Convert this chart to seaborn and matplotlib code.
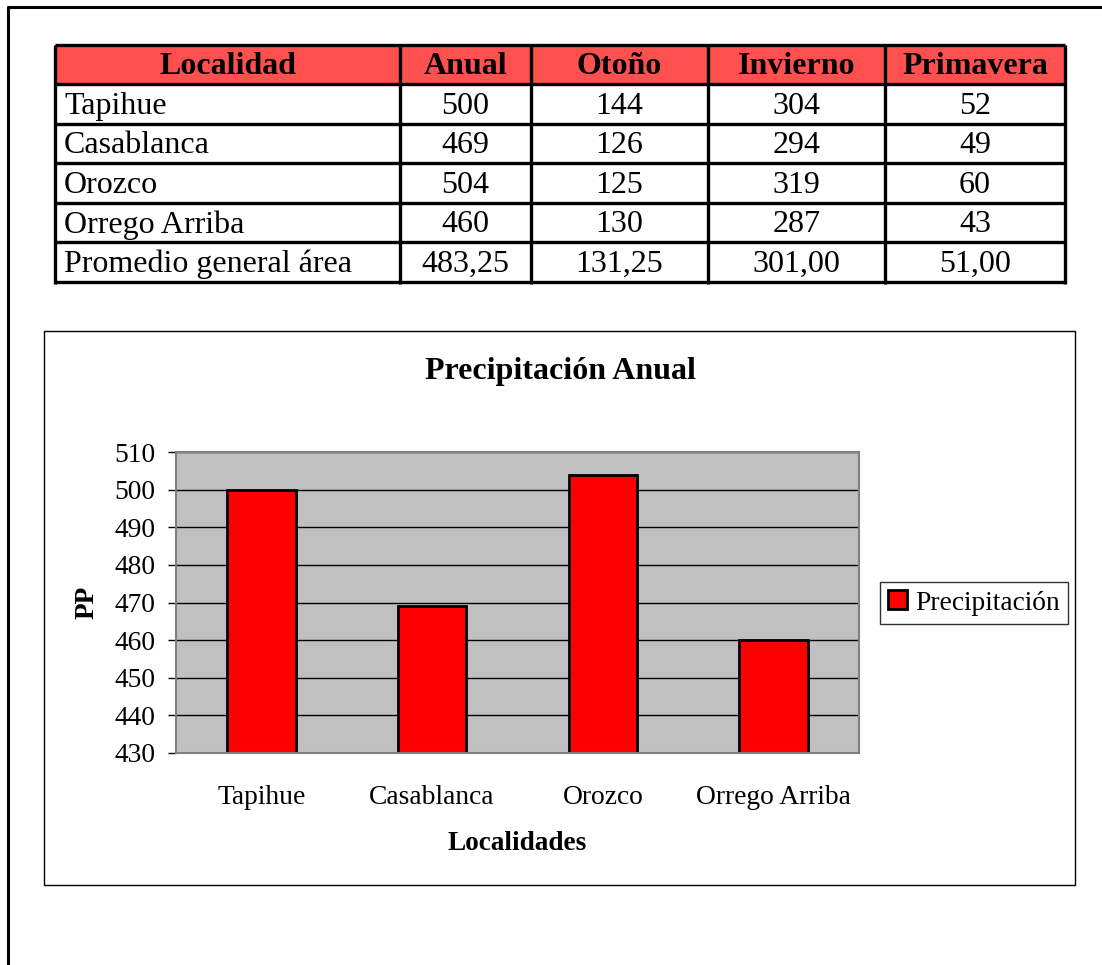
import matplotlib
matplotlib.use("Agg")
import matplotlib.pyplot as plt
import seaborn as sns
from matplotlib.patches import Rectangle
from matplotlib.lines import Line2D

# Table / chart data
localidades = ["Tapihue", "Casablanca", "Orozco", "Orrego Arriba"]
anual = [500, 469, 504, 460]
otono = [144, 126, 125, 130]
invierno = [304, 294, 319, 287]
primavera = [52, 49, 60, 43]
promedio = [483.25, 131.25, 301.00, 51.00]
headers = ["Localidad", "Anual", "Otoño", "Invierno", "Primavera"]
yticks = [430, 440, 450, 460, 470, 480, 490, 500, 510]

sns.set_style("white")
plt.rcParams["font.family"] = ["Liberation Serif", "DejaVu Serif"]
plt.rcParams["text.color"] = "black"
plt.rcParams["xtick.color"] = "black"
plt.rcParams["ytick.color"] = "black"
plt.rcParams["axes.labelcolor"] = "black"

W, H = 1102, 965
fig = plt.figure(figsize=(W / 100, H / 100), dpi=100)


def fx(x):
    return x / W


def fy(y):
    return 1 - y / H


# page border (left and top only)
fig.add_artist(Line2D([fx(8), fx(8)], [fy(7), 0], color="black", lw=2.2))
fig.add_artist(Line2D([fx(8), 1], [fy(7), fy(7)], color="black", lw=2.2))

# ---- table ----
col_edges = [55, 400, 531, 708, 885, 1065]
top, bottom = 45, 282
row_h = (bottom - top) / 6
tax = fig.add_axes([fx(55), fy(282), fx(1065) - fx(55), fy(45) - fy(282)])
tax.set_xlim(55, 1065)
tax.set_ylim(282, 45)
tax.axis("off")
tax.add_patch(Rectangle((55, 45), 1010, row_h, facecolor="#FF5050", edgecolor="none"))

rows = [[loc, str(a), str(o), str(i), str(p)]
        for loc, a, o, i, p in zip(localidades, anual, otono, invierno, primavera)]
rows.append(["Promedio general área"] + [f"{v:.2f}".replace(".", ",") for v in promedio])

for j, h in enumerate(headers):
    cx = (col_edges[j] + col_edges[j + 1]) / 2
    tax.text(cx, top + row_h / 2 + 2, h, ha="center", va="center",
             fontsize=23, fontweight="bold")
for r, row in enumerate(rows):
    cy = top + row_h * (r + 1.5) + 2
    for j, val in enumerate(row):
        if j == 0:
            tax.text(col_edges[0] + 9, cy, val, ha="left", va="center", fontsize=23)
        else:
            cx = (col_edges[j] + col_edges[j + 1]) / 2
            tax.text(cx, cy, val, ha="center", va="center", fontsize=23)

for k in range(7):
    tax.hlines(top + row_h * k, 55, 1065, color="black", lw=2.4, clip_on=False)
for x in col_edges:
    tax.vlines(x, top, bottom + 2, color="black", lw=2.4, clip_on=False)

# ---- chart ----
fig.add_artist(Rectangle((fx(44), fy(885)), fx(1075) - fx(44), fy(331) - fy(885),
                         transform=fig.transFigure, facecolor="none",
                         edgecolor="black", lw=1))

ax = fig.add_axes([fx(176), fy(753), fx(859) - fx(176), fy(452) - fy(753)])
ax.set_facecolor("#C0C0C0")
sns.barplot(x=localidades, y=anual, color="#FF0000", saturation=1,
            edgecolor="black", linewidth=2, width=0.4, label="Precipitación", ax=ax)
ax.set_ylim(430, 510)
ax.set_xlim(-0.5, 3.5)
ax.set_yticks(yticks)
ax.yaxis.grid(True, color="black", lw=1)
ax.set_axisbelow(True)
for s in ax.spines.values():
    s.set_color("#808080")
    s.set_linewidth(1.5)

ax.set_xticks([-0.5, 0.5, 1.5, 2.5, 3.5], minor=True)
ax.tick_params(axis="x", which="major", length=0, pad=23, labelsize=19.8)
ax.tick_params(axis="x", which="minor", length=6, width=1, color="black", direction="out")
ax.tick_params(axis="y", length=6, width=1, color="black", direction="out",
               pad=9, labelsize=19.8, left=True)
ax.set_xlabel("")
ax.set_ylabel("")

fig.text(fx(560), fy(372), "Precipitación Anual", ha="center", va="center",
         fontsize=23, fontweight="bold")
fig.text(fx(517), fy(843), "Localidades", ha="center", va="center",
         fontsize=19.6, fontweight="bold")
fig.text(fx(87), fy(602), "PP", ha="center", va="center", rotation=90,
         fontsize=19.6, fontweight="bold")

leg = ax.legend(loc="center left", bbox_to_anchor=(fx(880), fy(603)),
                bbox_transform=fig.transFigure, borderaxespad=0, fancybox=False,
                fontsize=19.8, handlelength=0.67, handleheight=0.67,
                handletextpad=0.3, borderpad=0.3, frameon=True)
leg.get_frame().set_edgecolor("black")
leg.get_frame().set_linewidth(1)

fig.savefig("out.png", dpi=100)
